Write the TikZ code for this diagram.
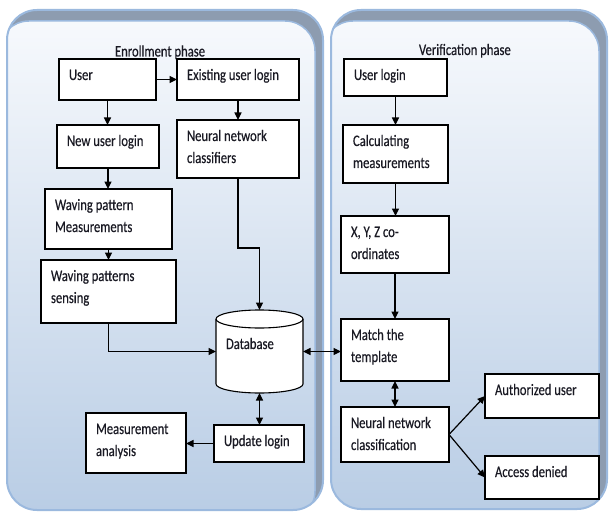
\documentclass[tikz,border=0pt]{standalone}
\usepackage{fontspec}
\setmainfont{Carlito}[FakeStretch=0.79,FakeBold=0.4]
\usetikzlibrary{arrows.meta}
\definecolor{panelTop}{RGB}{248,250,253}
\definecolor{panelBot}{RGB}{185,205,229}
\definecolor{shadowGray}{RGB}{141,156,176}
\definecolor{panelEdge}{RGB}{155,185,222}
\definecolor{txtcol}{RGB}{25,25,35}
\newcommand\lines[1]{\begin{tabular}[t]{@{}l@{}}#1\end{tabular}}
\tikzset{
  box/.style={draw=black, fill=white, line width=1.1pt, inner sep=0pt, outer sep=0pt},
  txt/.style={anchor=base west, inner sep=0pt, outer sep=0pt, text=txtcol,
    font=\fontsize{16}{22}\selectfont},
  arr/.style={-{Triangle[length=7.5pt,width=7pt]}, line width=1.2pt},
  dbl/.style={{Triangle[length=7.5pt,width=7pt]}-{Triangle[length=7.5pt,width=7pt]}, line width=1.2pt},
}
\newcommand\mkbox[6]{%
  \node[box, minimum width={(#4)-(#2)}, minimum height={(#5)-(#3)}] (#1) at ({((#2)+(#4))/2},{((#3)+(#5))/2}) {};
  \node[txt] (#1-t) at ([xshift=10pt,yshift=-21pt]#1.north west) {\lines{#6}};
}
\newcommand\mkpanel[4]{%
  \begin{scope}
    \clip[rounded corners=30pt] (#1,#2) rectangle (#3,#4);
    \shade[top color=panelTop, bottom color=panelBot] (#1,#2) rectangle (#3,#4);
    \fill[shadowGray, even odd rule, rounded corners=30pt] ({#1-20},{#2-20}) rectangle ({#3+20},{#4+20})
      ({#1-8},{#2+11}) rectangle ({#3-8},{#4+11});
    \draw[panelEdge, line width=1.5pt, rounded corners=30pt] ({#1-8},{#2+11}) rectangle ({#3-8},{#4+11});
  \end{scope}
  \draw[panelEdge, line width=2pt, rounded corners=30pt] (#1,#2) rectangle (#3,#4);
}
\begin{document}
\begin{tikzpicture}[x=1pt,y=-1pt]
\useasboundingbox[fill=white] (0,0) rectangle (609,513);
% panels
\mkpanel{7}{10}{323}{510}
\mkpanel{331}{10}{607}{509}
% titles
\node[txt] (title1) at (115,56.5) {Enrollment phase};
\node[txt] (title2) at (419,55) {Verification phase};
% enrollment boxes
\mkbox{user}{59}{59}{156}{100}{User}
\mkbox{exist}{177}{59}{299}{100}{Existing user login}
\mkbox{newu}{57}{125}{159}{168}{New user login}
\mkbox{nnc}{177}{120}{299}{178}{Neural network\\classifiers}
\mkbox{wpm}{45}{189}{172}{249}{Waving pattern\\Measurements}
\mkbox{sens}{41}{260}{176}{323}{Waving patterns\\sensing}
\mkbox{meas}{86}{413}{186}{473}{Measurement\\analysis}
\mkbox{upd}{214}{425}{304}{462}{Update login}
% database
\node[inner sep=0pt, outer sep=0pt, minimum width=87, minimum height=83] (db) at (259.5,351.5) {};
\draw[line width=1.1pt, fill=white] ([yshift=-9pt]db.north west) -- ([yshift=9pt]db.south west)
  arc[start angle=180, end angle=360, x radius=43.5pt, y radius=9pt]
  -- ([yshift=-9pt]db.north east)
  arc[start angle=0, end angle=180, x radius=43.5pt, y radius=9pt] -- cycle;
\draw[line width=1.1pt] ([yshift=-9pt]db.north west)
  arc[start angle=180, end angle=360, x radius=43.5pt, y radius=9pt];
\node[txt] (db-t) at (226,349) {Database};
% verification boxes
\mkbox{ulog}{344}{59}{447}{96}{User login}
\mkbox{calc}{343}{125}{448}{183}{Calculating\\measurements}
\mkbox{xyz}{341}{216}{449}{273}{X, Y, Z co-\\ordinates}
\mkbox{match}{341}{319}{449}{381}{Match the\\template}
\mkbox{nncl}{341}{407}{449}{462}{Neural network\\classification}
\mkbox{auth}{485}{374}{599}{418}{Authorized user}
\mkbox{deny}{485}{456}{599}{499}{Access denied}
% enrollment connectors
\draw[arr] (user.east) -- (exist.west);
\draw[arr] (user.south) -- (user.south |- newu.north);
\draw[arr] (newu.south) -- (newu.south |- wpm.north);
\draw[arr] (wpm.south) -- (wpm.south |- sens.north);
\draw[arr] (exist.south) -- (nnc.north);
\draw[arr] (nnc.south) -- ++(0,70) -| (db.north);
\draw[arr] (sens.south) |- (db.west);
\draw[dbl] (db.south) -- (db.south |- upd.north);
\draw[arr] (upd.west) -- (upd.west -| meas.east);
\draw[dbl] (db.east) -- (db.east -| match.west);
% verification connectors
\draw[arr] (ulog.south) -- (ulog.south |- calc.north);
\draw[arr] (calc.south) -- (calc.south |- xyz.north);
\draw[arr] (xyz.south) -- (match.north);
\draw[dbl] (match.south) -- (nncl.north);
\draw[arr] (nncl.east) -- (auth.west);
\draw[arr] (nncl.east) -- (deny.west);
\end{tikzpicture}
\end{document}
